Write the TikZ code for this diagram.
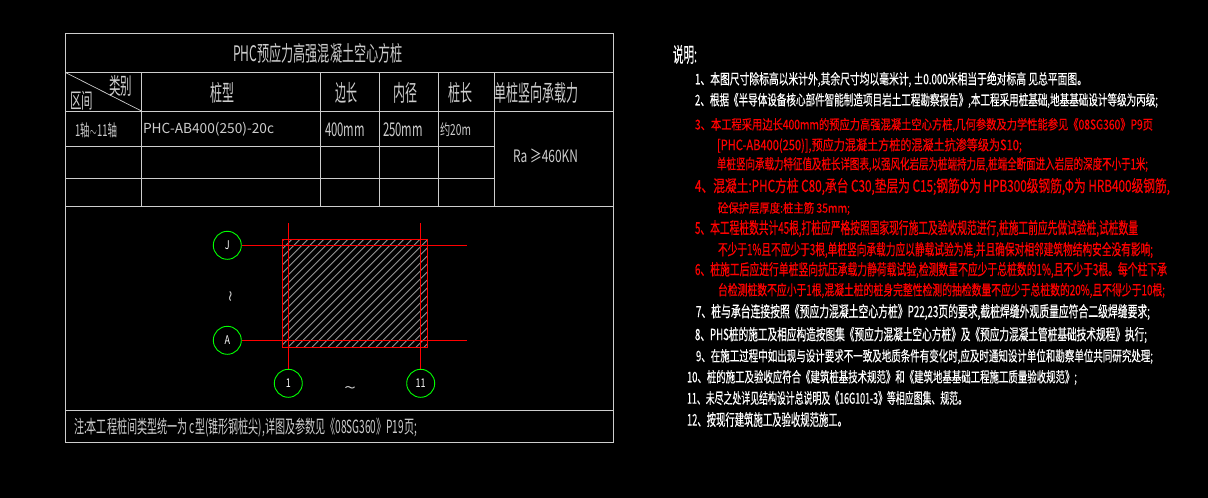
\documentclass[tikz,border=0pt]{standalone}
\usepackage{fontspec}
\usepackage{graphicx}
\newfontfamily\cjk{Noto Sans CJK SC}
\newfontfamily\cjkb[FakeBold=0.5]{Noto Sans CJK SC}
\setmainfont{Noto Sans CJK SC}
\definecolor{framegrey}{RGB}{205,205,205}
\definecolor{hatchgrey}{RGB}{150,150,150}
\definecolor{cadred}{RGB}{255,0,0}
\definecolor{cadgreen}{RGB}{0,255,0}
\newcommand{\putline}[7]{%
  \pgfmathsetlengthmacro{\wbox}{(#5-#3)*1pt}%
  \pgfmathsetlengthmacro{\hboxh}{(#6-#4)*1pt}%
  \node[anchor=north west,inner sep=0pt,outer sep=0pt,text=#2] (#1) at (#3,#4) {\resizebox*{\wbox}{\hboxh}{\cjk #7}};}
\tikzset{
  tableline/.style={draw=framegrey,line width=0.9pt},
  redline/.style={draw=cadred,line width=1pt},
  hatchline/.style={draw=hatchgrey,line width=0.8pt},
  axisbubble/.style={circle,draw=cadgreen,line width=0.9pt,minimum size=28pt,inner sep=0pt,text=white,font=\cjk\fontsize{12}{12}\selectfont}
}
\begin{document}
\begin{tikzpicture}[x=1pt,y=-1pt]
\useasboundingbox (0,0) rectangle (1208,498);
\fill[black] (0,0) rectangle (1208,498);
% table
\draw[tableline] (65.5,33.5) rectangle (613.5,442.5);
\foreach \yy in {72.5,111,206.5,410} \draw[tableline] (65.5,\yy) -- (613.5,\yy);
\foreach \yy in {146.5,178.5} \draw[tableline] (65.5,\yy) -- (494,\yy);
\foreach \xx in {141.5,320.5,379.5,438,494} \draw[tableline] (\xx,72.5) -- (\xx,206.5);
\draw[tableline,line width=0.7pt] (65.5,72.5) -- (141.5,111);
% table text
\putline{title}{framegrey}{233}{43}{403}{63}{PHC预应力高强混凝土空心方桩}
\putline{hcat}{framegrey}{109}{75}{132}{96}{类别}
\putline{hzone}{framegrey}{70}{91}{93}{110}{区间}
\putline{htype}{framegrey}{210}{82}{234}{103}{桩型}
\putline{hside}{framegrey}{335}{82}{357}{103}{边长}
\putline{hinner}{framegrey}{393}{82}{417}{103}{内径}
\putline{hlen}{framegrey}{448}{82}{472}{103}{桩长}
\putline{hload}{framegrey}{494}{82}{578}{103}{单桩竖向承载力}
\putline{czone}{framegrey}{75}{123}{117}{138}{1轴$\sim$11轴}
\putline{ctype}{framegrey}{143}{122}{274}{136}{PHC-AB400(250)-20c}
\putline{cside}{framegrey}{325}{123}{365}{137}{400mm}
\putline{cinner}{framegrey}{383}{123}{423}{137}{250mm}
\putline{clen}{framegrey}{440}{123}{471}{137}{约20m}
\putline{cload}{framegrey}{513}{149}{578}{163}{Ra ≥460KN}
\putline{tablenote}{framegrey}{74}{418}{417}{437}{注:本工程桩间类型统一为 c型(锥形钢桩尖),详图及参数见《08SG360》P19页;}
% plan
\begin{scope}
\clip (282.3,239.3) rectangle (427.3,347.3);
\foreach \cc in {176,184,...,432} \draw[hatchline] (\cc,347.3) -- (\cc+108,239.3);
\end{scope}
\draw[redline] (282.3,239.3) rectangle (427.3,347.3);
\node[axisbubble] (axJ) at (227.3,245.3) {\scalebox{0.75}[1]{J}};
\node[axisbubble] (axA) at (227.3,340.3) {\scalebox{0.75}[1]{A}};
\node[axisbubble] (ax1) at (288.3,383.3) {\scalebox{0.75}[1]{1}};
\node[axisbubble] (ax11) at (420.7,383.3) {\scalebox{0.75}[1]{11}};
\coordinate (endJ) at (466.7,245.3);
\coordinate (endA) at (466.7,340.3);
\coordinate (top1) at (288.3,223.3);
\coordinate (top11) at (420.7,223.3);
\draw[redline] (axJ) -- (endJ);
\draw[redline] (axA) -- (endA);
\draw[redline] (ax1) -- (top1);
\draw[redline] (ax11) -- (top11);
\node[inner sep=0pt,text=framegrey,rotate=90] (tildeV) at (233,296) {\resizebox*{12pt}{7pt}{\cjk\string~}};
\node[inner sep=0pt,text=framegrey] (tildeH) at (350,390) {\resizebox*{12pt}{7pt}{\cjk\string~}};
% notes
\putline{ntitle}{white}{673}{45}{697}{64}{\cjkb 说明:}
\putline{n1}{white}{695}{72}{1087}{87}{\cjkb 1、本图尺寸除标高以米计外,其余尺寸均以毫米计, ±0.000米相当于绝对标高 见总平面图。}
\putline{n2}{white}{695}{93}{1158}{108}{\cjkb 2、根据《半导体设备核心部件智能制造项目岩土工程勘察报告》,本工程采用桩基础,地基基础设计等级为丙级;}
\putline{n3}{cadred}{695}{118}{1153}{132}{\cjkb 3、本工程采用边长400mm的预应力高强混凝土空心方桩,几何参数及力学性能参见《08SG360》P9页}
\putline{n3b}{cadred}{717}{138}{1022}{153}{\cjkb [PHC-AB400(250)],预应力混凝土方桩的混凝土抗渗等级为S10;}
\putline{n3c}{cadred}{717}{157}{1148}{172}{\cjkb 单桩竖向承载力特征值及桩长详图表,以强风化岩层为桩端持力层,桩端全断面进入岩层的深度不小于1米;}
\putline{n4}{cadred}{695}{178}{1170}{195}{\cjkb 4、混凝土:PHC方桩 C80,承台 C30,垫层为 C15;钢筋Φ为 HPB300级钢筋,Φ为 HRB400级钢筋,}
\putline{n4b}{cadred}{718}{202}{850}{215}{\cjkb 砼保护层厚度:桩主筋 35mm;}
\putline{n5}{cadred}{695}{220}{1138}{237}{\cjkb 5、本工程桩数共计45根,打桩应严格按照国家现行施工及验收规范进行,桩施工前应先做试验桩,试桩数量}
\putline{n5b}{cadred}{718}{242}{1153}{258}{\cjkb 不少于1\%且不应少于3根,单桩竖向承载力应以静载试验为准,并且确保对相邻建筑物结构安全没有影响;}
\putline{n6}{cadred}{695}{262}{1167}{278}{\cjkb 6、桩施工后应进行单桩竖向抗压承载力静荷载试验,检测数量不应少于总桩数的1\%,且不少于3根。每个柱下承}
\putline{n6b}{cadred}{718}{283}{1165}{298}{\cjkb 台检测桩数不应小于1根,混凝土桩的桩身完整性检测的抽检数量不应少于总桩数的20\%,且不得少于10根;}
\putline{n7}{white}{696}{304}{1150}{320}{\cjkb 7、桩与承台连接按照《预应力混凝土空心方桩》P22,23页的要求,截桩焊缝外观质量应符合二级焊缝要求;}
\putline{n8}{white}{695}{327}{1147}{343}{\cjkb 8、PHS桩的施工及相应构造按图集《预应力混凝土空心方桩》及《预应力混凝土管桩基础技术规程》执行;}
\putline{n9}{white}{696}{349}{1153}{364}{\cjkb 9、在施工过程中如出现与设计要求不一致及地质条件有变化时,应及时通知设计单位和勘察单位共同研究处理;}
\putline{n10}{white}{687}{370}{1077}{385}{\cjkb 10、桩的施工及验收应符合《建筑桩基技术规范》和《建筑地基基础工程施工质量验收规范》;}
\putline{n11}{white}{687}{391}{967}{405}{\cjkb 11、未尽之处详见结构设计总说明及《16G101-3》等相应图集、规范。}
\putline{n12}{white}{687}{412}{847}{427}{\cjkb 12、按现行建筑施工及验收规范施工。}
\end{tikzpicture}
\end{document}
